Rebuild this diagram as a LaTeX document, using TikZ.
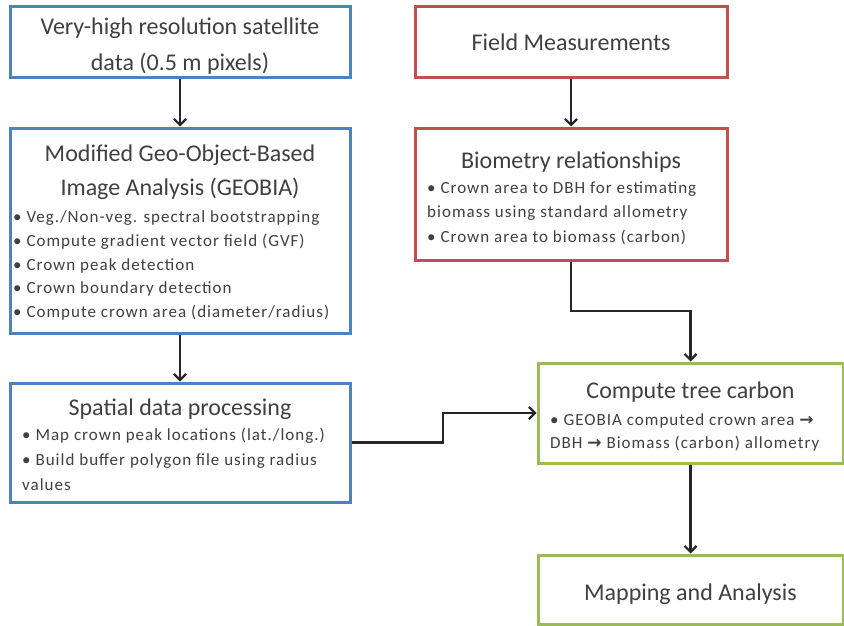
\documentclass[tikz,border=0pt]{standalone}
\usepackage{fontspec}
\setmainfont{Carlito}
\newfontfamily\symfont{DejaVu Sans}
\usetikzlibrary{arrows.meta}
\definecolor{boxblue}{RGB}{79,129,189}
\definecolor{boxred}{RGB}{192,80,77}
\definecolor{boxgreen}{RGB}{155,187,89}
\definecolor{txt}{RGB}{64,64,64}
\newcommand{\rarr}{{\symfont\bfseries →}}
\newcommand{\itemfont}[1]{\fontsize{17}{#1}\selectfont\addfontfeatures{LetterSpace=6}}
% multi-line nodes are placed by the baseline of their last line
\tikzset{
  box/.style={draw, line width=3pt, fill=white, inner sep=0pt},
  bluebox/.style={box, draw=boxblue},
  redbox/.style={box, draw=boxred},
  greenbox/.style={box, draw=boxgreen},
  title/.style={text=txt, align=center, anchor=base, inner sep=0pt,
    font=\fontsize{24}{34}\selectfont},
  items/.style={text=txt, align=left, anchor=base west, inner sep=0pt},
  arr/.style={draw=black!85, line width=2.2pt,
    -{Straight Barb[length=6pt,width=12pt,line width=2.2pt]}}
}
\begin{document}
\begin{tikzpicture}[x=1pt,y=-1pt]
\useasboundingbox (0,0) rectangle (844,626);

% left column: image processing chain
\node[bluebox, minimum width=340pt, minimum height=71pt] (sat) at (180,42.5) {};
\node[title, font=\fontsize{24}{36}\selectfont] (satT) at (180,71) {Very-high resolution satellite\\data (0.5 m pixels)};

\node[bluebox, minimum width=340pt, minimum height=205pt] (geo) at (180,230.5) {};
\node[title] (geoT) at (180,195) {Modified Geo-Object-Based\\Image Analysis (GEOBIA)};
\node[items, font=\itemfont{23.75}] (geoL) at (13,317.5) {• Veg./Non-veg. spectral bootstrapping\\
• Compute gradient vector field (GVF)\\
• Crown peak detection\\
• Crown boundary detection\\
• Compute crown area (diameter/radius)};

\node[bluebox, minimum width=340pt, minimum height=119pt] (spat) at (180,442.5) {};
\node[title] (spatT) at (180,415) {Spatial data processing};
\node[items, font=\itemfont{25}] (spatL) at (22,490) {• Map crown peak locations (lat./long.)\\
• Build buffer polygon file using radius\\
values};

% right column: field data
\node[redbox, minimum width=312pt, minimum height=71pt] (field) at (571,42.5) {};
\node[title] (fieldT) at (571,51) {Field Measurements};

\node[redbox, minimum width=312pt, minimum height=132pt] (bio) at (571,194) {};
\node[title] (bioT) at (571,168) {Biometry relationships};
\node[items, font=\itemfont{24.5}] (bioL) at (427,242) {• Crown area to DBH for estimating\\
biomass using standard allometry\\
• Crown area to biomass (carbon)};

% carbon and output
\node[greenbox, minimum width=305pt, minimum height=100pt] (carbon) at (690.5,413) {};
\node[title] (carbonT) at (690.5,398) {Compute tree carbon};
\node[items, font=\itemfont{23}] (carbonL) at (550,448) {• GEOBIA computed crown area \rarr\\
DBH \rarr\ Biomass (carbon) allometry};

\node[greenbox, minimum width=305pt, minimum height=69pt] (map) at (690.5,589.5) {};
\node[title] (mapT) at (690.5,600) {Mapping and Analysis};

% connectors
\coordinate (jog) at (443,0);
\coordinate (bend) at (0,311);
\draw[arr] (sat.south) -- (geo.north);
\draw[arr] (geo.south) -- (spat.north);
\draw[arr] (field.south) -- (bio.north);
\draw[arr] (bio.south) -- (bio.south |- bend) -| (carbon.north);
\draw[arr] (spat.east) -- (spat.east -| jog) |- (carbon.west);
\draw[arr] (carbon.south) -- (map.north);
\end{tikzpicture}
\end{document}
